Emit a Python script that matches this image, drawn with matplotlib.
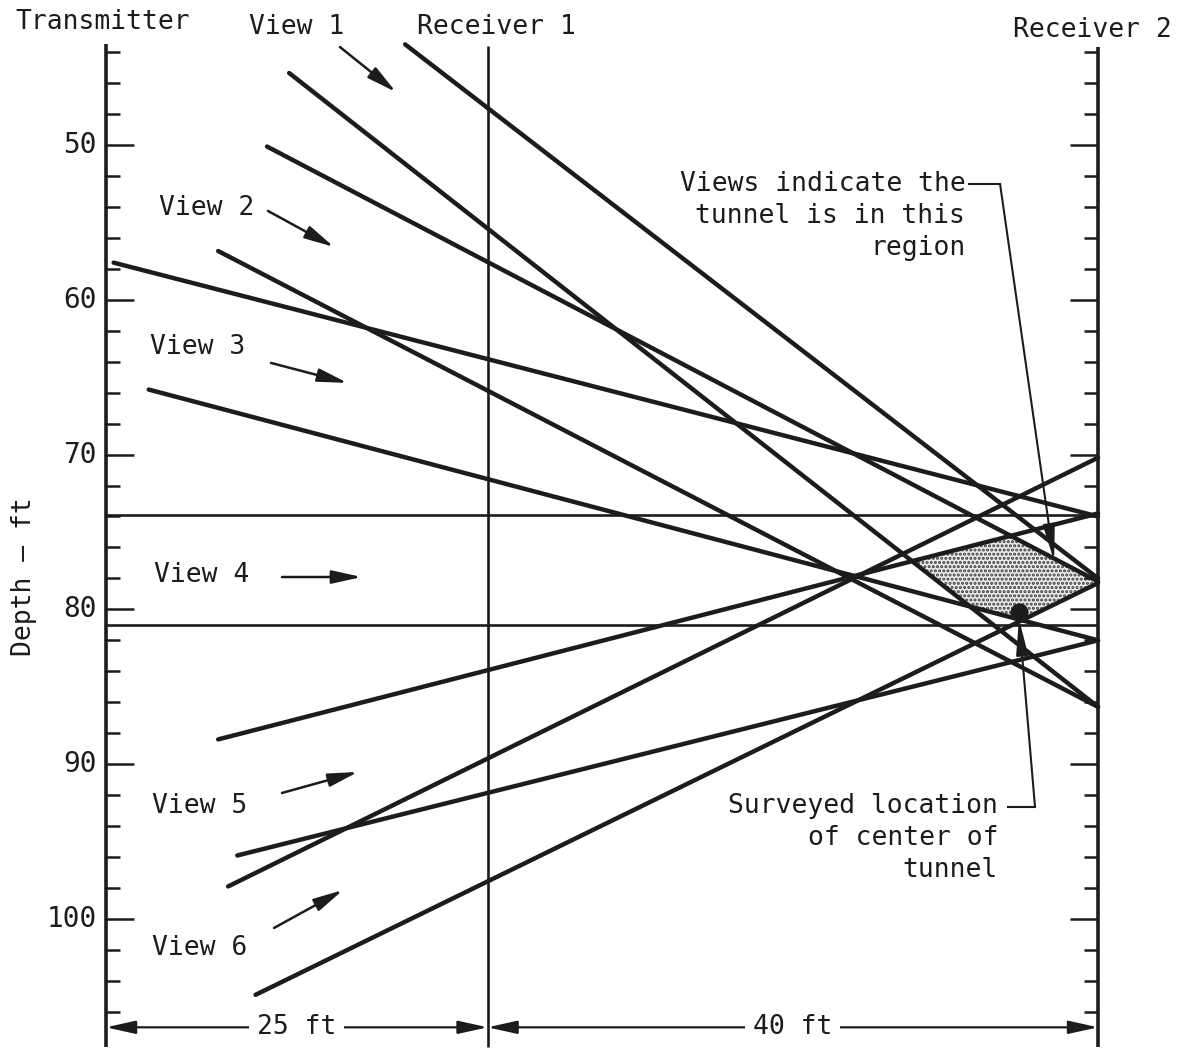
import numpy as np
import matplotlib
matplotlib.use('Agg')
import matplotlib.pyplot as plt

# ---------------- data (ft) ----------------
well_names = ['Transmitter', 'Receiver 1', 'Receiver 2']
well_x = [0, 25, 65]
major_ticks = [50, 60, 70, 80, 90, 100]
minor_ticks = list(range(44, 107, 2))

view_labels = ['View 1', 'View 2', 'View 3', 'View 4', 'View 5', 'View 6']
# rays: start offset (ft), start depth (ft), depth at Receiver 2 (ft)
ray_view = [1, 1, 2, 2, 3, 3, 5, 5, 6, 6]
ray_x0 = [19.6, 12.0, 10.55, 7.35, 0.5, 2.8, 7.35, 8.6, 8.0, 9.8]
ray_d0 = [43.5, 45.35, 50.1, 56.85, 57.6, 65.8, 88.4, 95.9, 97.9, 104.9]
ray_d1 = [78.0, 86.3, 78.2, 86.3, 74.0, 82.0, 73.8, 82.0, 70.2, 78.3]
view4_depths = [73.9, 81.0]
tunnel_center_x = [59.8]
tunnel_center_depth = [80.2]
spacing_labels = ['25 ft', '40 ft']

INK = '#1c1c1c'
plt.rcParams['font.family'] = ['DejaVu Sans Mono', 'DejaVu Sans']
FS = 19

fig = plt.figure(figsize=(11.8, 10.51), dpi=100)
ax = fig.add_axes([0, 0, 1, 1])
ax.set_xlim(-6.946, 70.37)
ax.set_ylim(108.53, 40.633)
ax.axis('off')

x_end = well_x[2]


def ray_depth(i, x):
    return ray_d0[i] + (ray_d1[i] - ray_d0[i]) * (x - ray_x0[i]) / (x_end - ray_x0[i])


# ------------- shaded region: overlap of all view bands -------------
xs = np.linspace(40, x_end, 3000)
uppers, lowers = [], []
for v in [1, 2, 3, 5, 6]:
    idx = [i for i, rv in enumerate(ray_view) if rv == v]
    a = ray_depth(idx[0], xs)
    b = ray_depth(idx[1], xs)
    uppers.append(np.minimum(a, b))
    lowers.append(np.maximum(a, b))
uppers.append(np.full_like(xs, min(view4_depths)))
lowers.append(np.full_like(xs, max(view4_depths)))
upper = np.max(uppers, axis=0)
lower = np.min(lowers, axis=0)
plt.rcParams['hatch.linewidth'] = 1.5
ax.fill_between(xs, upper, lower, where=lower > upper, facecolor='#ececec',
                edgecolor='#3a3a3a', hatch='....', linewidth=0, zorder=1)

# ------------- wells -------------
ax.vlines(well_x[0], 43.5, 108.3, color=INK, lw=2.6, zorder=3)
ax.vlines(well_x[1], 43.6, 108.3, color=INK, lw=1.9, zorder=3)
ax.vlines(well_x[2], 43.7, 108.3, color=INK, lw=2.6, zorder=3)

# ticks
for d in minor_ticks:
    L = 1.85 if d % 10 == 0 else 0.92
    ax.hlines(d, well_x[0], well_x[0] + L, color=INK, lw=1.8, zorder=3)
    ax.hlines(d, well_x[2] - L, well_x[2], color=INK, lw=1.8, zorder=3)
for d in major_ticks:
    ax.text(-0.62, d, str(d), ha='right', va='center', fontsize=FS + 1, color=INK)

ax.text(-5.35, 77.9, 'Depth \u2014 ft', rotation=90, ha='center', va='center',
        fontsize=FS, color=INK)

# well titles
ax.text(-0.2, 42.05, well_names[0], ha='center', va='center', fontsize=FS, color=INK)
ax.text(25.6, 42.4, well_names[1], ha='center', va='center', fontsize=FS, color=INK)
ax.text(64.65, 42.6, well_names[2], ha='center', va='center', fontsize=FS, color=INK)

# ------------- view 4 horizontal rays -------------
for d in view4_depths:
    ax.hlines(d, well_x[0], well_x[2], color=INK, lw=1.9, zorder=2)

# ------------- slanted rays -------------
for i in range(len(ray_x0)):
    ax.plot([ray_x0[i], x_end], [ray_d0[i], ray_d1[i]], color=INK, lw=3.2,
            solid_capstyle='round', zorder=2)

# tunnel center
ax.plot(tunnel_center_x, tunnel_center_depth, 'o', color=INK, ms=12, zorder=5)

# ------------- view labels and arrows -------------
lab_pos = [(12.5, 42.4), (6.62, 54.07), (6.03, 63.05), (6.29, 77.78), (6.16, 92.7), (6.16, 101.87)]
arr = [((15.33, 43.67), (19.0, 46.58)),
       ((10.61, 54.26), (14.94, 56.59)),
       ((10.81, 64.08), (15.82, 65.37)),
       ((11.53, 77.91), (16.75, 77.91)),
       ((11.53, 91.86), (16.51, 90.50)),
       ((11.01, 100.58), (15.53, 98.13))]
for lab, (px, py), (t, h) in zip(view_labels, lab_pos, arr):
    ax.text(px, py, lab, ha='center', va='center', fontsize=FS, color=INK)
    ax.annotate('', xy=h, xytext=t,
                arrowprops=dict(arrowstyle='-|>,head_length=0.9,head_width=0.2',
                                mutation_scale=20, lw=1.8, color=INK,
                                shrinkA=0, shrinkB=0))

# ------------- spacing dimension line -------------
dim_d = 107.0
for (a, b), lab in zip([(well_x[0], well_x[1]), (well_x[1], well_x[2])], spacing_labels):
    ax.annotate('', xy=(a, dim_d), xytext=(b, dim_d),
                arrowprops=dict(arrowstyle='<|-|>,head_length=0.9,head_width=0.2',
                                mutation_scale=20, lw=1.6, color=INK,
                                shrinkA=0, shrinkB=0), zorder=3)
    ax.text((a + b) / 2, dim_d, lab, ha='center', va='center', fontsize=FS, color=INK,
            zorder=4, bbox=dict(boxstyle='square,pad=0.3', fc='white', ec='none'))

# ------------- annotations -------------
ax.text(56.3, 54.6, 'Views indicate the\ntunnel is in this\nregion', ha='right',
        va='center', multialignment='right', fontsize=FS, color=INK, linespacing=1.3)
ax.plot([56.55, 58.58], [52.52, 52.52], color=INK, lw=1.5)
ax.annotate('', xy=(62.12, 76.87), xytext=(58.58, 52.52),
            arrowprops=dict(arrowstyle='-|>,head_length=1.1,head_width=0.18',
                            mutation_scale=20, lw=1.5, color=INK, shrinkA=0, shrinkB=0))

ax.text(58.45, 94.77, 'Surveyed location\nof center of\ntunnel', ha='right',
        va='center', multialignment='right', fontsize=FS, color=INK, linespacing=1.3)
ax.plot([59.1, 60.87], [92.76, 92.76], color=INK, lw=1.5)
ax.annotate('', xy=(59.82, 80.6), xytext=(60.87, 92.76),
            arrowprops=dict(arrowstyle='-|>,head_length=1.1,head_width=0.18',
                            mutation_scale=20, lw=1.5, color=INK, shrinkA=0, shrinkB=0))

fig.savefig('out.png', dpi=100, facecolor='white')
